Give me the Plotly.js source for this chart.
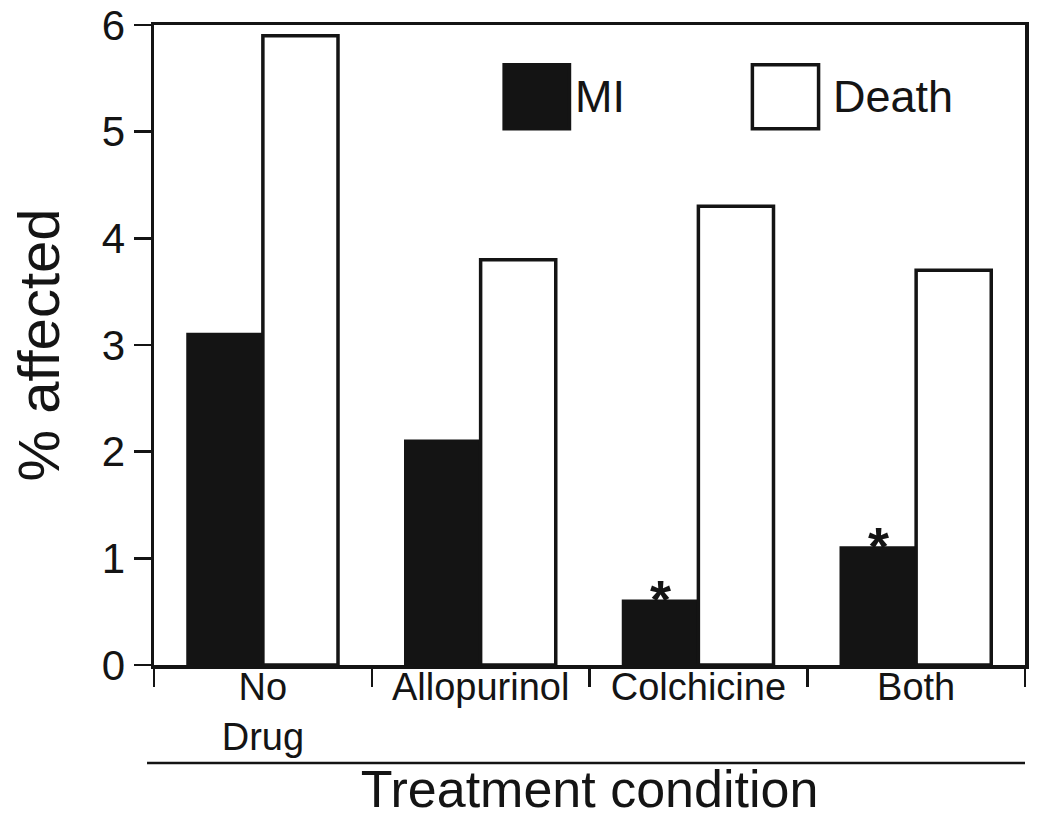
<!DOCTYPE html>
<html>
<head>
<meta charset="utf-8">
<script src="https://cdn.plot.ly/plotly-3.0.1.min.js"></script>
<style>html,body{margin:0;padding:0;background:#fff;}#chart{width:1050px;height:818px;}</style>
</head>
<body>
<div id="chart"></div>
<script>
const categories = ['No<br>Drug', 'Allopurinol', 'Colchicine', 'Both'];
const miValues = [3.1, 2.1, 0.6, 1.1];
const deathValues = [5.9, 3.8, 4.3, 3.7];
const significantMI = [false, false, true, true];
const yTickValues = [0, 1, 2, 3, 4, 5, 6];
const seriesNames = ['MI', 'Death'];

const FONT = 'Liberation Sans, Arial, Helvetica, sans-serif';
const INK = '#141414';
const BARGAP = 0.31;

const traces = [
  {
    type: 'bar', name: seriesNames[0], x: categories, y: miValues,
    marker: {color: INK, line: {color: INK, width: 3}},
    hoverinfo: 'skip'
  },
  {
    type: 'bar', name: seriesNames[1], x: categories, y: deathValues,
    marker: {color: '#ffffff', line: {color: INK, width: 3.5}},
    hoverinfo: 'skip'
  }
];

// asterisks over significant MI bars (category index minus half a bar)
const annotations = [];
const barOffset = (1 - BARGAP) / 4;
significantMI.forEach((sig, i) => {
  if (sig) {
    annotations.push({
      x: i - barOffset, y: miValues[i], xref: 'x', yref: 'y',
      text: '<b>*</b>', showarrow: false, yanchor: 'bottom', yshift: -30,
      font: {family: FONT, size: 54, color: INK}
    });
  }
});

// custom large legend
const legendItems = [
  {x0: 0.402, x1: 0.477, fill: INK, label: seriesNames[0], tx: 0.481},
  {x0: 0.687, x1: 0.763, fill: '#ffffff', label: seriesNames[1], tx: 0.777}
];
const shapes = [];
legendItems.forEach(it => {
  shapes.push({
    type: 'rect', xref: 'paper', yref: 'paper',
    x0: it.x0, x1: it.x1, y0: 0.838, y1: 0.938,
    fillcolor: it.fill, line: {color: INK, width: 3.5}
  });
  annotations.push({
    x: it.tx, y: 0.888, xref: 'paper', yref: 'paper',
    text: it.label, showarrow: false, xanchor: 'left', yanchor: 'middle',
    font: {family: FONT, size: 45, color: INK}
  });
});
// separator line above x-axis title
shapes.push({
  type: 'line', xref: 'paper', yref: 'paper',
  x0: -0.008, x1: 1.0, y0: -0.153, y1: -0.153,
  line: {color: INK, width: 2.5}
});

const layout = {
  width: 1050, height: 818,
  margin: {l: 154, r: 25, t: 25, b: 153},
  paper_bgcolor: '#ffffff', plot_bgcolor: '#ffffff',
  showlegend: false,
  barmode: 'group', bargap: BARGAP, bargroupgap: 0,
  font: {family: FONT, color: INK},
  xaxis: {
    type: 'category',
    showline: true, mirror: true, linecolor: INK, linewidth: 3.5,
    ticks: 'outside', tickson: 'boundaries', ticklen: 18, tickwidth: 2.5, tickcolor: INK,
    tickfont: {family: FONT, size: 38, color: INK},
    ticklabelstandoff: -14,
    showgrid: false, zeroline: false,
    title: {text: 'Treatment condition', font: {family: FONT, size: 52, color: INK}, standoff: 28},
    automargin: false
  },
  yaxis: {
    range: [0, 6], tickvals: yTickValues,
    showline: true, mirror: true, linecolor: INK, linewidth: 3.5,
    ticks: 'outside', ticklen: 17, tickwidth: 2.5, tickcolor: INK,
    tickfont: {family: FONT, size: 42, color: INK},
    ticklabeloverflow: 'allow',
    showgrid: false, zeroline: false,
    title: {text: '% affected', font: {family: FONT, size: 58, color: INK}, standoff: 24},
    automargin: false
  },
  annotations: annotations,
  shapes: shapes
};

Plotly.newPlot('chart', traces, layout, {staticPlot: true, displayModeBar: false});
</script>
</body>
</html>
